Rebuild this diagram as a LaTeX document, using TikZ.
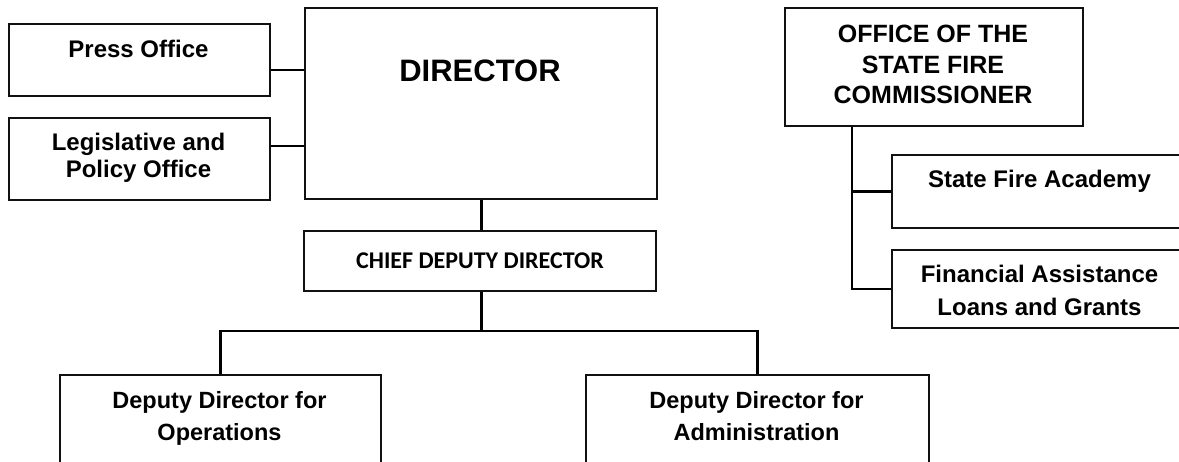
\documentclass[tikz,border=0pt]{standalone}
\usepackage{fontspec}
\usepackage{tikz}
\usepackage{xcolor}
\setmainfont{Liberation Sans}
\newfontfamily\chieffont{Carlito}
\usetikzlibrary{positioning, calc}
\definecolor{boxLine}{HTML}{111111}
\definecolor{linkLine}{HTML}{000000}

\begin{document}
\begin{tikzpicture}[
  x=1pt, y=-1pt,
  box/.style={draw=boxLine, line width=2pt, rectangle, anchor=north west,
              inner sep=0pt, fill=white},
  lbl/.style={anchor=north, inner sep=0pt, align=center},
  link/.style={draw=linkLine, line width=2.2pt},
  mainlink/.style={draw=linkLine, line width=3pt},
]
  \useasboundingbox (0,0) rectangle (1179,462);
  \clip (0,0) rectangle (1179,462);

  % left side offices
  \node[box, minimum width=261pt, minimum height=72pt] (press) at (8,23) {};
  \node[lbl, font=\bfseries\fontsize{24}{27}\selectfont] (presst) at (138.5,39.5) {Press Office};
  \node[box, minimum width=261pt, minimum height=82pt] (legis) at (8,117) {};
  \node[lbl, font=\bfseries\fontsize{24}{27}\selectfont] (legist) at (138.5,132.5)
    {Legislative and\\Policy Office};

  % director and chief deputy
  \node[box, minimum width=352pt, minimum height=191pt] (director) at (304,7) {};
  \node[lbl, font=\bfseries\fontsize{31}{36}\selectfont] (directort) at (480,59.5) {DIRECTOR};
  \node[box, minimum width=352pt, minimum height=60pt, anchor=center,
        font=\chieffont\bfseries\fontsize{24}{28}\selectfont] (chief) at (480,261)
    {CHIEF DEPUTY DIRECTOR};

  % deputies
  \node[box, minimum width=321pt, minimum height=106pt] (ops) at (59,374) {};
  \node[lbl, font=\bfseries\fontsize{23.5}{32}\selectfont] (opst) at (219.5,391)
    {Deputy Director for\\Operations};
  \node[box, minimum width=343pt, minimum height=106pt] (admin) at (585,374) {};
  \node[lbl, font=\bfseries\fontsize{23.5}{32}\selectfont] (admint) at (756.5,391)
    {Deputy Director for\\Administration};

  % state fire commissioner
  \node[box, minimum width=298pt, minimum height=118pt] (osfc) at (784,7) {};
  \node[lbl, font=\bfseries\fontsize{25}{30.5}\selectfont] (osfct) at (933,25)
    {OFFICE OF THE\\STATE FIRE\\COMMISSIONER};
  \node[box, minimum width=297pt, minimum height=73pt] (academy) at (891,154) {};
  \node[lbl, font=\bfseries\fontsize{24}{27}\selectfont] (academyt) at (1039.5,169.5)
    {State Fire Academy};
  \node[box, minimum width=297pt, minimum height=78pt] (financial) at (891,249) {};
  \node[lbl, font=\bfseries\fontsize{24}{33}\selectfont] (financialt) at (1039.5,264.5)
    {Financial Assistance\\Loans and Grants};

  \coordinate (bus) at (481,331);
  \coordinate (trunk) at ([xshift=68pt]osfc.south west);

  \draw[link] ([yshift=-10pt]press.east) -- ([yshift=-10pt]press.east -| director.west);
  \draw[link] ([yshift=13pt]legis.east) -- ([yshift=13pt]legis.east -| director.west);
  \draw[mainlink] (director.south -| bus) -- (chief.north -| bus);
  \draw[mainlink] (chief.south -| bus) -- (bus);
  \draw[link] (ops.north) |- (bus) -| (admin.north);
  \draw[link] (trunk) |- (financial.west);
  \draw[link] (trunk |- academy.west) -- (academy.west);
\end{tikzpicture}
\end{document}
